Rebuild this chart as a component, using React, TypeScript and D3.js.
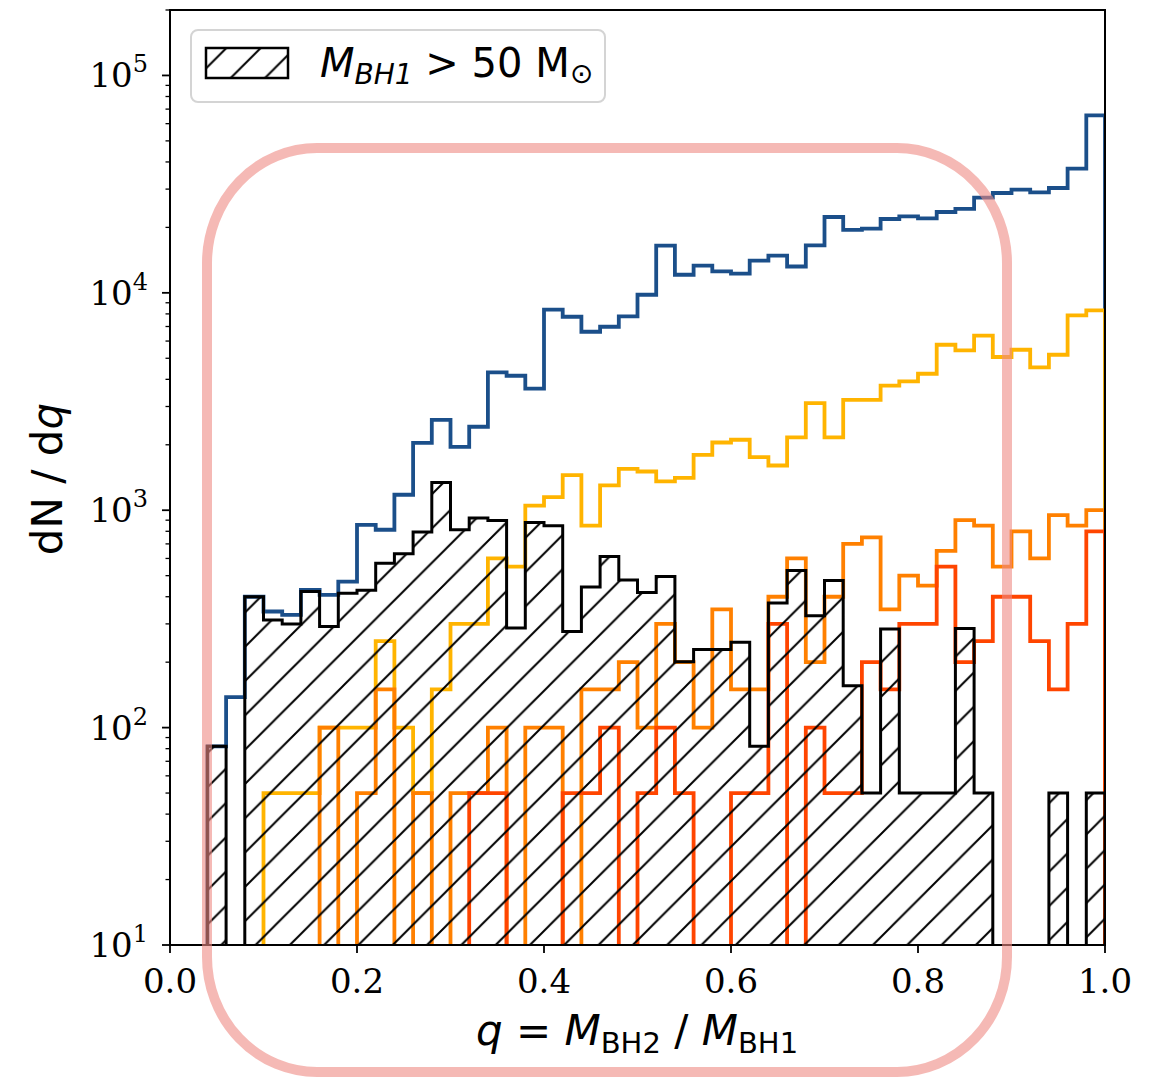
import * as d3 from "d3";

// per-bin dN/dq values, 50 bins of width 0.02 over q = 0..1
const binWidth = 0.02;
const allBH = [0, 0, 82, 138, 400, 342, 330, 430, 408, 469, 857, 813, 1178, 2042, 2606, 1958, 2421, 4302, 4156, 3624, 8365, 7762, 6620, 6982, 7785, 9797, 16490, 12110, 13330, 12540, 12250, 14060, 14830, 13220, 16520, 22330, 19500, 19720, 21860, 22480, 21990, 23540, 24310, 27390, 28790, 29810, 28970, 30350, 37250, 65480];
const cut1 = [0, 0, 0, 0, 0, 50, 50, 50, 100, 100, 100, 250, 100, 50, 150, 300, 300, 600, 550, 1050, 1150, 1450, 850, 1300, 1550, 1507, 1356, 1409, 1798, 2049, 2109, 1755, 1606, 2161, 3111, 2161, 3221, 3221, 3740, 3912, 4244, 5771, 5431, 6350, 5067, 5472, 4537, 5190, 7870, 8300];
const cut2 = [0, 0, 0, 0, 0, 0, 0, 0, 100, 0, 50, 150, 0, 50, 0, 50, 50, 100, 0, 100, 100, 0, 150, 150, 200, 100, 300, 200, 100, 350, 150, 150, 400, 600, 200, 400, 700, 750, 350, 500, 450, 650, 900, 850, 550, 800, 600, 950, 850, 1000];
const cut3 = [0, 0, 0, 0, 0, 0, 0, 0, 0, 0, 0, 0, 0, 0, 0, 0, 50, 50, 0, 0, 0, 50, 50, 100, 0, 50, 100, 50, 0, 0, 50, 50, 300, 0, 100, 50, 50, 200, 150, 300, 300, 550, 200, 250, 400, 400, 250, 150, 300, 800];
const heavy = [0, 0, 82, 0, 400, 313, 300, 423, 292, 415, 428, 571, 630, 793, 1342, 813, 920, 897, 287, 877, 848, 277, 443, 612, 478, 418, 495, 201, 229, 229, 247, 82, 374, 528, 327, 475, 156, 50, 284, 50, 50, 50, 286, 50, 0, 0, 0, 50, 0, 50];

const lineSeries = [
  { name: "all", values: allBH, color: "#1b4f8a" },
  { name: "cut1", values: cut1, color: "#ffb400" },
  { name: "cut2", values: cut2, color: "#ff8000" },
  { name: "cut3", values: cut3, color: "#ff4500" },
];

const xTicks = [0, 0.2, 0.4, 0.6, 0.8, 1.0];

const W = 1154;
const H = 1080;
const L = 170, R = 1105, T = 10, B = 945;

const x = d3.scaleLinear().domain([0, 1]).range([L, R]);
const y = d3.scaleLog().domain([10, 2.0e5]).range([B, T]);

function stepPath(vals: number[]) {
  const base = B + 20;
  let d = `M${x(0)},${base}`;
  vals.forEach((v, i) => {
    const yy = v > 0 ? y(v) : base;
    d += `L${x(i * binWidth)},${yy}L${x((i + 1) * binWidth)},${yy}`;
  });
  d += `L${x(vals.length * binWidth)},${base}`;
  return d;
}

const hatch = 34.3;

export default function App() {
  const yTicks = y.ticks();
  return (
    <svg width={W} height={H} style={{ position: "absolute", left: 0, top: 0, background: "#fff" }}>
      <defs>
        <clipPath id="plot">
          <rect x={L} y={T} width={R - L} height={B - T} />
        </clipPath>
        <pattern id="hatch" patternUnits="userSpaceOnUse" width={hatch} height={hatch}>
          <path
            d={`M0,${hatch} L${hatch},0 M${-hatch / 4},${hatch / 4} L${hatch / 4},${-hatch / 4} M${(3 * hatch) / 4},${(5 * hatch) / 4} L${(5 * hatch) / 4},${(3 * hatch) / 4}`}
            stroke="#000"
            strokeWidth={2}
          />
        </pattern>
      </defs>

      <g clipPath="url(#plot)">
        {lineSeries.map((s) => (
          <path key={s.name} d={stepPath(s.values)} fill="none" stroke={s.color} strokeWidth={3.8} />
        ))}
        <path d={stepPath(heavy)} fill="url(#hatch)" stroke="#000" strokeWidth={3} />
      </g>

      {/* frame */}
      <rect x={L} y={T} width={R - L} height={B - T} fill="none" stroke="#000" strokeWidth={2} />

      {/* x ticks */}
      {xTicks.map((t) => (
        <g key={t}>
          <line x1={x(t)} x2={x(t)} y1={B} y2={B + 8} stroke="#000" strokeWidth={1.8} />
          <text x={x(t)} y={993} textAnchor="middle" fontFamily="DejaVu Serif" fontSize={34}>
            {t.toFixed(1)}
          </text>
        </g>
      ))}

      {/* y ticks */}
      {yTicks.map((t) => {
        const e = Math.log10(t);
        const major = Math.abs(e - Math.round(e)) < 1e-9;
        return (
          <g key={t}>
            <line x1={L - (major ? 8 : 4.5)} x2={L} y1={y(t)} y2={y(t)} stroke="#000" strokeWidth={major ? 1.8 : 1.3} />
            {major && (
              <text x={L - 22} y={y(t) + 12} textAnchor="end" fontFamily="DejaVu Serif" fontSize={34}>
                10
                <tspan fontSize={24} dy={-15}>{Math.round(e)}</tspan>
              </text>
            )}
          </g>
        );
      })}

      {/* axis labels */}
      <text transform="translate(62,479) rotate(-90)" textAnchor="middle" fontFamily="DejaVu Sans" fontSize={42}>
        dN / d<tspan fontStyle="italic">q</tspan>
      </text>
      <text x={637} y={1045} textAnchor="middle" fontFamily="DejaVu Sans" fontSize={42}>
        <tspan fontStyle="italic">q</tspan> = <tspan fontStyle="italic">M</tspan>
        <tspan fontSize={29} dy={8}>BH2</tspan>
        <tspan dy={-8}> / </tspan>
        <tspan fontStyle="italic">M</tspan>
        <tspan fontSize={29} dy={8}>BH1</tspan>
      </text>

      {/* legend */}
      <rect x={191} y={30} width={414} height={72} rx={7} fill="#fff" fillOpacity={0.8} stroke="#d4d4d4" strokeWidth={2} />
      <rect x={206} y={48} width={82} height={30} fill="url(#hatch)" stroke="#000" strokeWidth={2.5} />
      <text x={320} y={77} fontFamily="DejaVu Sans" fontSize={40}>
        <tspan fontStyle="italic">M</tspan>
        <tspan fontStyle="italic" fontSize={28} dy={7}>BH1</tspan>
        <tspan dy={-7}>{" > 50 M"}</tspan>
        <tspan fontSize={28} dy={6}>⊙</tspan>
      </text>

      {/* highlight annotation */}
      <rect x={207} y={148} width={800} height={924} rx={110} ry={115} fill="none" stroke="#ee8a84" strokeOpacity={0.6} strokeWidth={10} />
    </svg>
  );
}
